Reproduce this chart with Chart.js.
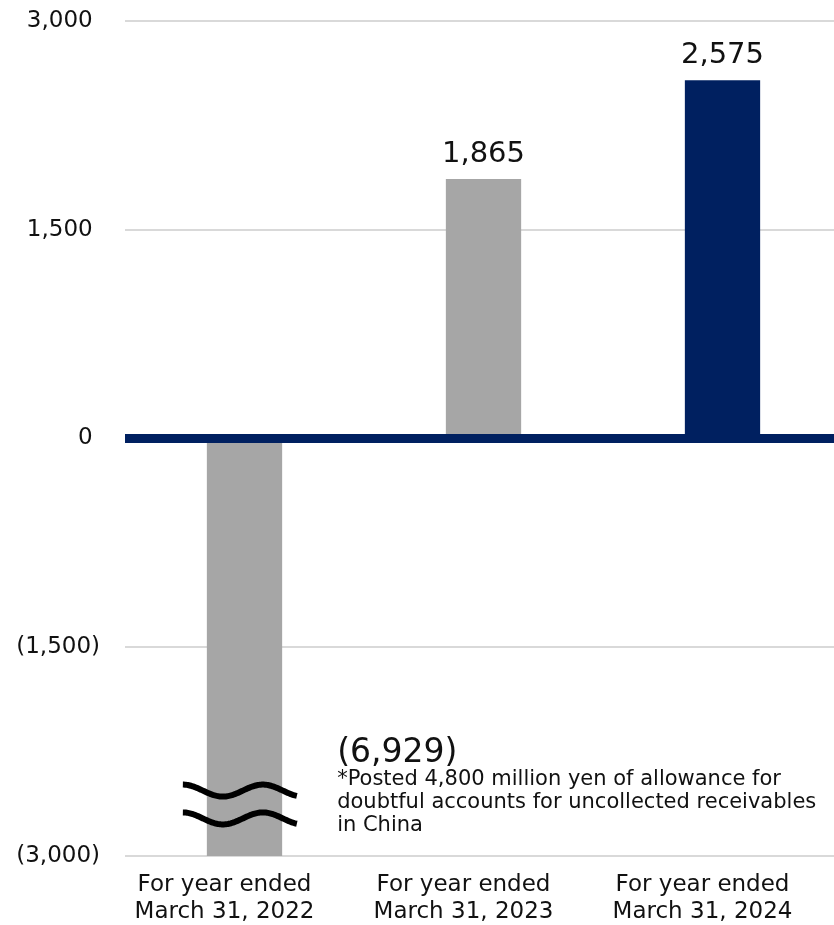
<!DOCTYPE html>
<html>
<head>
<meta charset="utf-8">
<script src="https://cdn.jsdelivr.net/npm/chart.js@4.4.1/dist/chart.umd.min.js"></script>
<style>
  html, body { margin: 0; padding: 0; background: #fff; overflow: hidden; }
  #wrap { width: 842px; height: 925px; }
</style>
</head>
<body>
<div id="wrap"><canvas id="profitChart"></canvas></div>
<script>
// Data
const categories = [
    ['For year ended', 'March 31, 2022'],
    ['For year ended', 'March 31, 2023'],
    ['For year ended', 'March 31, 2024']
];
const profitValues = [-6929, 1865, 2575];
const barColors = ['#a6a6a6', '#a6a6a6', '#002060'];
const yTicks = [-3000, -1500, 0, 1500, 3000];
const footnoteLines = [
    '*Posted 4,800 million yen of allowance for',
    'doubtful accounts for uncollected receivables',
    'in China'
];
// where the wavy break marks sit on the clipped bar
const breakValues = [-2530, -2730];

const FONT = '"DejaVu Sans", Verdana, sans-serif';
const NAVY = '#002060';

function fmt(v) {
    const s = Math.abs(v).toLocaleString('en-US');
    return v < 0 ? '(' + s + ')' : s;
}

// thick zero line, value labels, axis break and footnote
const overlayPlugin = {
    id: 'overlay',
    afterDatasetsDraw(chart) {
        const ctx = chart.ctx;
        const area = chart.chartArea;
        const y = chart.scales.y;
        const bars = chart.getDatasetMeta(0).data;

        // zero line
        const y0 = y.getPixelForValue(0);
        ctx.save();
        ctx.fillStyle = NAVY;
        ctx.fillRect(area.left, y0 - 4.5, area.right - area.left, 9);

        // value labels above positive bars
        ctx.fillStyle = '#111';
        ctx.font = '29px ' + FONT;
        ctx.textAlign = 'center';
        ctx.textBaseline = 'alphabetic';
        profitValues.forEach((v, i) => {
            if (v >= 0) ctx.fillText(fmt(v), bars[i].x, bars[i].y - 17);
        });

        // wavy break marks across the clipped bar
        const b = bars[0];
        const x1 = b.x - b.width / 2 - 24;
        const x2 = b.x + b.width / 2 + 15;
        ctx.strokeStyle = '#000';
        ctx.lineWidth = 6;
        ctx.lineCap = 'butt';
        breakValues.forEach(bv => {
            const cy = y.getPixelForValue(bv);
            ctx.beginPath();
            for (let x = x1; x <= x2; x += 1) {
                const yy = cy - 6 * Math.cos(2 * Math.PI * (x - x1) / 80);
                if (x === x1) ctx.moveTo(x, yy); else ctx.lineTo(x, yy);
            }
            ctx.stroke();
        });

        // label and note for the negative bar
        const tx = b.x + b.width / 2 + 55;
        ctx.textAlign = 'left';
        ctx.font = '33px ' + FONT;
        ctx.fillText(fmt(profitValues[0]), tx, area.bottom - 94);
        ctx.font = '21px ' + FONT;
        footnoteLines.forEach((line, i) => {
            ctx.fillText(line, tx, area.bottom - 71 + i * 23);
        });
        ctx.restore();
    }
};

new Chart(document.getElementById('profitChart').getContext('2d'), {
    type: 'bar',
    data: {
        labels: categories,
        datasets: [{
            data: profitValues,
            backgroundColor: barColors,
            borderWidth: 0,
            categoryPercentage: 1,
            barPercentage: 0.315
        }]
    },
    options: {
        responsive: true, maintainAspectRatio: false,
        animation: false,
        layout: { padding: { top: 21, right: 0, left: 0, bottom: 0 } },
        plugins: { legend: { display: false }, tooltip: { enabled: false } },
        scales: {
            x: {
                grid: { display: false },
                border: { display: false },
                ticks: {
                    color: '#111',
                    font: { family: FONT, size: 23, lineHeight: 1.17 },
                    padding: 8,
                    labelOffset: -20,
                    maxRotation: 0
                },
                afterFit(scale) { scale.height = 69; }
            },
            y: {
                min: yTicks[0],
                max: yTicks[yTicks.length - 1],
                afterBuildTicks(scale) { scale.ticks = yTicks.map(v => ({ value: v })); },
                grid: {
                    color: c => c.tick && c.tick.value === 0 ? 'rgba(0,0,0,0)' : '#d9d9d9',
                    lineWidth: 2,
                    drawTicks: true,
                    tickLength: 25,
                    tickColor: 'rgba(0,0,0,0)'
                },
                border: { display: false },
                ticks: {
                    color: '#111',
                    font: { family: FONT, size: 23 },
                    padding: 0,
                    callback: v => v < 0 ? fmt(v) : fmt(v) + ' '
                },
                afterFit(scale) { scale.width = 125; }
            }
        }
    },
    plugins: [overlayPlugin]
});
</script>
</body>
</html>
